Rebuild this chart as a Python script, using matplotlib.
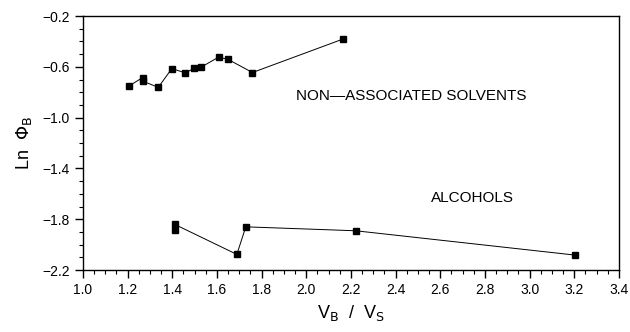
import matplotlib
matplotlib.use("Agg")
import matplotlib.pyplot as plt
from matplotlib.ticker import MultipleLocator, FuncFormatter

# non-associated solvents
nas_x = [1.206, 1.267, 1.267, 1.337, 1.398, 1.458, 1.498, 1.528, 1.607, 1.650, 1.759, 2.165]
nas_y = [-0.751, -0.685, -0.712, -0.762, -0.614, -0.648, -0.612, -0.604, -0.524, -0.542, -0.645, -0.381]

# alcohols
alc_x = [1.410, 1.410, 1.689, 1.729, 2.221, 3.201]
alc_y = [-1.888, -1.840, -2.077, -1.860, -1.891, -2.082]

y_ticks = [-2.2, -1.8, -1.4, -1.0, -0.6, -0.2]

plt.rcParams['font.family'] = ['Liberation Sans', 'DejaVu Sans']

fig = plt.figure(figsize=(6.3, 3.32), dpi=100)
ax = fig.add_axes([0.1317, 0.1867, 0.8508, 0.7651])

ax.plot(nas_x, nas_y, color='black', linewidth=0.7, marker='s', markersize=5)
ax.plot(alc_x, alc_y, color='black', linewidth=0.7, marker='s', markersize=5)

ax.text(1.955, -0.83, 'NON\u2014ASSOCIATED SOLVENTS', fontsize=11, ha='left', va='center')
ax.text(2.56, -1.63, 'ALCOHOLS', fontsize=11, ha='left', va='center')

ax.set_xlim(1.0, 3.4)
ax.set_ylim(-2.2, -0.2)
ax.xaxis.set_major_locator(MultipleLocator(0.2))
ax.xaxis.set_minor_locator(MultipleLocator(0.05))
ax.set_yticks(y_ticks)
ax.yaxis.set_minor_locator(MultipleLocator(0.1))
fmt = FuncFormatter(lambda v, p: f'{v:.1f}'.replace('-', '\u2212'))
ax.xaxis.set_major_formatter(fmt)
ax.yaxis.set_major_formatter(fmt)
ax.tick_params(which='major', direction='out', length=6, width=1, labelsize=10)
ax.tick_params(which='minor', direction='out', length=3, width=0.8)
for s in ax.spines.values():
    s.set_linewidth(1)

ax.set_xlabel(r'V$_{\rm B}$  /  V$_{\rm S}$', fontsize=13, labelpad=4)
ax.set_ylabel(r'Ln  $\Phi_{\rm B}$', fontsize=13, labelpad=6)

fig.savefig('out.png', dpi=100)
